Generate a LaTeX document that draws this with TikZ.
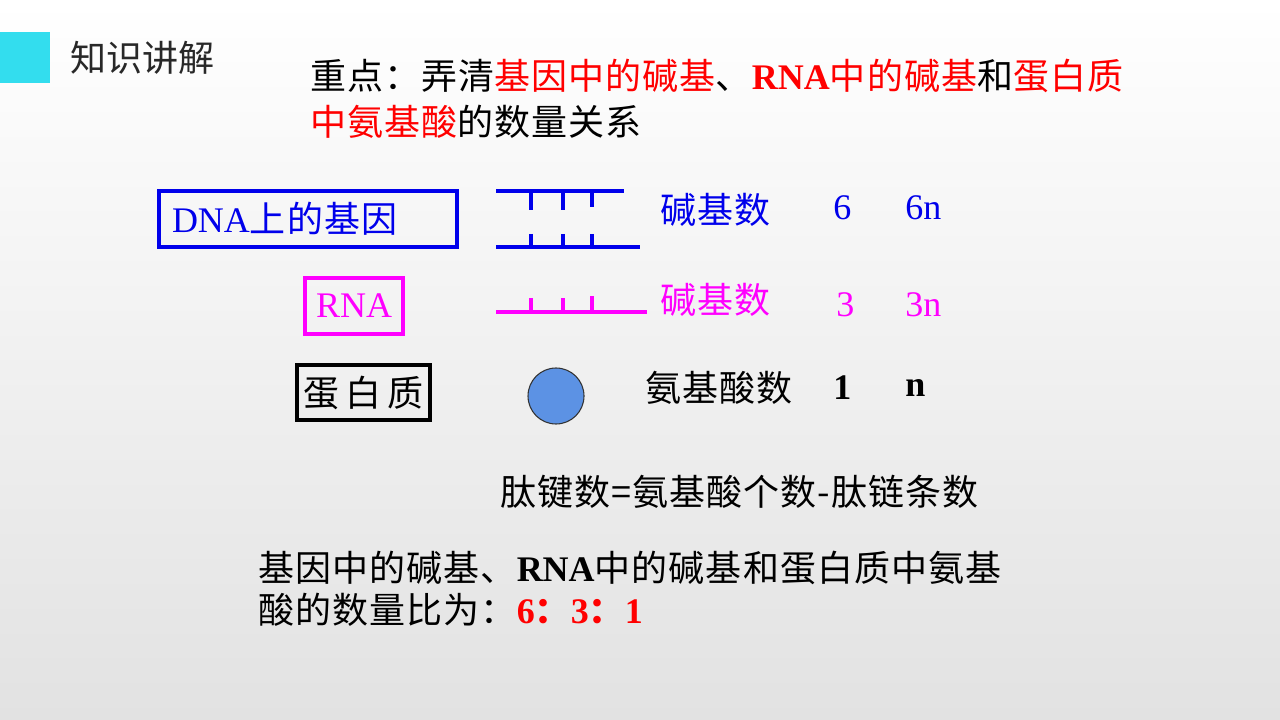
\documentclass[tikz,border=0pt]{standalone}
\usepackage{fontspec}
\setmainfont{Liberation Serif}
\newfontfamily\cjk[LetterSpace=3]{Noto Sans CJK SC}
\newfontfamily\cjkplain{Noto Sans CJK SC}
\definecolor{bggray}{RGB}{226,226,226}
\definecolor{cyanbox}{RGB}{51,221,238}
\definecolor{dblue}{RGB}{0,0,235}
\definecolor{mag}{RGB}{255,0,255}
\definecolor{ballfill}{RGB}{92,146,228}
\definecolor{titlegray}{RGB}{40,40,40}
\tikzset{
  txt/.style={inner sep=0pt,anchor=west,font=\fontsize{27}{32}\selectfont},
  boxnode/.style={draw,line width=2.6pt,inner sep=0pt,font=\fontsize{27}{32}\selectfont},
  strand/.style={line width=3pt},
  tick/.style={line width=2.4pt},
}
\begin{document}
\begin{tikzpicture}[x=0.75pt,y=-0.75pt]
\useasboundingbox (0,0) rectangle (1280,720);
\shade[top color=white,bottom color=bggray] (0,0) rectangle (1280,720);
% header
\fill[cyanbox] (0,32) rectangle (50,83);
\node[txt,text=titlegray] (hdr) at (70,58) {\cjkplain 知识讲解};
% title
\node[txt] (t1) at (310,76) {{\cjk 重点：弄清}\textcolor{red}{\cjk 基因中的碱基}{\cjk 、}\textcolor{red}{\bfseries RNA}\textcolor{red}{\cjk 中的碱基}{\cjk 和}\textcolor{red}{\cjk 蛋白质}};
\node[txt] (t2) at (310,122) {\textcolor{red}{\cjk 中氨基酸}{\cjk 的数量关系}};
% boxes
\node[boxnode,draw=dblue,text=dblue,minimum width=298*0.75pt,minimum height=56*0.75pt,text width=272*0.75pt,align=left] (dna) at (308,219) {DNA{\cjk 上的基因}};
\node[boxnode,draw=mag,text=mag,minimum width=98*0.75pt,minimum height=56*0.75pt] (rna) at (354,306) {RNA};
\node[boxnode,draw=black,minimum width=133*0.75pt,minimum height=55*0.75pt] (prot) at (363.5,392.5) {\cjk 蛋\,白\,质};
% DNA strands
\coordinate (d1a) at (496,191); \coordinate (d1b) at (624,191);
\coordinate (d2a) at (496,247); \coordinate (d2b) at (640,247);
\draw[strand,dblue] (d1a) -- (d1b);
\draw[strand,dblue] (d2a) -- (d2b);
\foreach \x/\e in {531/210,563/210,592/207}{
  \draw[tick,dblue] (\x,191) -- (\x,\e);
  \draw[tick,dblue] (\x,234) -- (\x,247);
}
% RNA strand
\coordinate (r1a) at (496,312); \coordinate (r1b) at (647,312);
\draw[strand,mag] (r1a) -- (r1b);
\foreach \x/\e in {531/298,563/298,592/296}{
  \draw[tick,mag] (\x,\e) -- (\x,312);
}
% amino acid ball
\node[circle,draw=black!80,line width=0.8pt,fill=ballfill,minimum size=56*0.75pt,inner sep=0pt] (ball) at (556,396) {};
% labels and numbers
\node[txt,text=dblue] (l1) at (660,210) {\cjk 碱基数};
\node[txt,text=dblue] (n1) at (833,208) {6};
\node[txt,text=dblue] (m1) at (905,208) {6n};
\node[txt,text=mag] (l2) at (660,300) {\cjk 碱基数};
\node[txt,text=mag] (n2) at (836,305) {3};
\node[txt,text=mag] (m2) at (905,305) {3n};
\node[txt] (l3) at (645,388) {\cjk 氨基酸数};
\node[txt] (n3) at (833,388) {\bfseries 1};
\node[txt] (m3) at (905,388) {\bfseries n};
% equation
\node[txt] (eq) at (500,492) {\cjk 肽键数=氨基酸个数-肽链条数};
% conclusion
\node[txt] (c1) at (258,568) {{\cjk 基因中的碱基、}{\bfseries RNA}{\cjk 中的碱基和蛋白质中氨基}};
\node[txt] (c2) at (258,610) {{\cjk 酸的数量比为：}\textcolor{red}{\bfseries 6{\cjk ：}3{\cjk ：}1}};
\end{tikzpicture}
\end{document}
